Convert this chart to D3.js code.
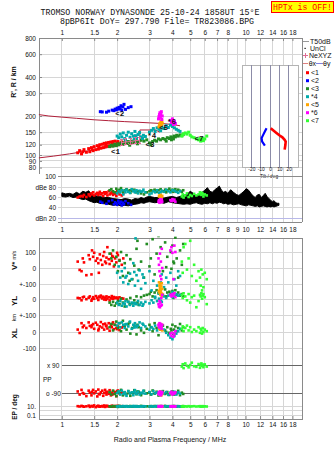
<!DOCTYPE html>
<html><head><meta charset="utf-8">
<script src="https://cdn.jsdelivr.net/npm/d3@7"></script>
<style>
body{margin:0;background:#fff}
svg{display:block}
text{font-family:"Liberation Sans",Arial,sans-serif;fill:#111}
.mono{font-family:"Liberation Mono","DejaVu Sans Mono",monospace}
</style>
</head><body><svg id="c" width="335" height="451"></svg>
<script>
// ---------- data ----------
const titleLine1 = "TROMSO NORWAY   DYNASONDE 25-10-24 1858UT 15°E";
const titleLine2 = "8pBP6It DoY= 297.790 File= TR823086.BPG";
const freqTicks = [1,1.5,2,3,4,5,6,7,8,9,10,12,14,16,18];
const freqLabelsTop = [1,1.5,2,3,4,5,6,7,8,10,12,14,16,18];
const freqLabelsMid = [1,1.5,2,3,4,5,6,7,8,9,10,12,14,16,18];
const freqLabelsBottom = [1,1.5,2,3,4,5,6,7,8,10,12,14,16,18];
const rTicks = [800,600,400,300,200,150,120,100,90,80];
const dbTicks = [100,80,60,40,20];
const dbLabels = ["100","dBe 80","60","40","dBn 20"];
const tiltTicks = [-20,-10,0,10,20];
const modeNames = ["<1","<2","<3","*4","<5","*6","<7"];
const modeColors = ["#ff0000","#0000ff","#228b22","#00aaaa","#ffa500","#ff00ff","#33ff33"];

// echo records: [freq MHz, R' km, amplitude dB, V* m/s, YL km, XL km, PP deg, EP deg]
const mode1 = [
[1.22,104,60,40,10,15,-80,12],[1.25,108,62,-12,8,-6,-100,10],[1.28,102,63,-20,-5,55,-70,14],
[1.32,110,65,35,18,40,-95,9],[1.36,105,61,-45,2,25,-110,11],[1.40,112,66,80,12,60,-75,16],
[1.42,106,63,55,20,38,-88,8],[1.45,114,68,-40,-8,30,-105,13],[1.48,108,70,70,15,50,-70,10],
[1.50,116,64,95,5,20,-92,18],[1.53,110,67,45,22,58,-80,7],[1.56,118,69,60,10,45,-112,12],
[1.58,111,65,30,-3,10,-68,15],[1.61,120,71,85,14,35,-98,9],[1.63,113,66,50,25,62,-85,11],
[1.66,121,68,20,7,28,-75,13],[1.68,114,63,75,18,48,-108,10],[1.70,123,70,100,0,15,-90,17],
[1.72,116,67,40,12,52,-70,8],[1.75,124,69,65,20,40,-100,12],[1.77,117,64,130,6,22,-82,14],
[1.80,125,72,55,15,55,-95,10],[1.82,118,66,25,-6,8,-72,11],[1.85,126,68,90,10,42,-105,9],
[1.87,119,71,45,22,30,-88,15],[1.90,127,65,70,4,60,-78,12],[1.92,120,69,10,16,18,-96,10],
[1.95,128,67,60,9,45,-84,13],[1.98,121,63,35,12,25,-110,11],[2.02,127,70,80,5,35,-74,14],
[2.06,122,66,50,14,12,-92,9],[2.12,126,64,20,8,28,-86,12],[1.30,106,62,60,14,30,-90,11],
[1.46,111,66,110,3,42,-82,12],[1.59,115,68,-30,19,20,-96,10],[1.74,120,70,30,-2,36,-86,13],
[1.88,122,69,75,7,50,-100,9],[2.00,124,72,95,11,18,-78,12],[2.16,123,68,60,6,40,-90,11]
];
const mode2 = [
[1.62,216,52],[1.66,215,50],[1.75,214,48],[1.80,218,53],[1.88,222,55],[1.92,220,47],
[1.95,226,51],[1.98,223,49],[2.00,230,46],[2.03,226,54],[2.05,233,50],[2.08,228,48],
[2.10,240,52],[2.12,221,45],[2.15,235,50],[2.18,246,47],[2.22,225,53],[2.30,232,49],[2.38,236,46]
];
const mode3 = [
[1.82,116,74,90,-20,30,-85,11],[1.86,119,76,60,-35,50,-100,9],[1.90,117,72,110,-15,10,-75,13],
[1.94,121,70,20,-40,45,-95,10],[1.98,118,77,70,-25,65,-110,12],[2.02,122,73,-20,-10,25,-80,8],
[2.06,120,75,45,-30,55,-90,14],[2.10,124,78,100,5,5,-70,10],[2.15,121,71,-50,-20,70,-105,11],
[2.20,125,74,30,-45,35,-85,9],[2.25,123,76,80,0,15,-95,12],[2.30,127,72,-30,-15,50,-78,10],
[2.36,124,69,55,10,-10,-108,13],[2.42,128,73,-70,-25,25,-88,9],[2.48,126,75,15,-5,40,-72,11],
[2.55,129,70,120,20,-15,-98,12],[2.62,127,72,-10,-35,30,-82,10],[2.70,130,68,40,15,10,-104,14],
[2.80,128,66,-60,25,-5,-76,9],[2.90,131,70,150,30,20,-92,11],[3.00,124,72,10,35,45,-86,10],
[3.05,120,74,60,50,30,-100,12],[3.12,127,73,180,20,5,-74,9],[3.20,130,75,-40,45,55,-94,13],
[3.28,128,71,90,60,25,-82,10],[3.36,133,74,200,40,-20,-106,11],[3.45,131,76,130,55,15,-88,12],
[3.55,134,72,-20,30,40,-78,10],[3.65,132,75,160,65,10,-96,14],[3.75,136,74,70,45,30,-84,9],
[3.85,134,77,210,50,-5,-102,11],[3.92,138,73,100,35,20,-90,12],[4.00,136,75,140,55,45,-80,10],
[4.08,140,74,30,40,15,-98,13],[4.15,138,76,190,60,35,-86,9],[4.22,142,72,60,30,5,-92,11],
[4.30,140,75,-60,45,25,-76,12],[4.40,143,73,110,25,50,-104,10],[4.50,141,71,20,35,10,-88,11],
[4.58,144,74,150,20,30,-96,12],[3.70,128,70,5,20,0,-90,10],[3.95,131,72,-5,30,10,-84,11],
[4.05,133,71,40,10,-10,-100,12],[2.34,119,74,-80,-30,60,-92,10],[2.58,122,71,170,-20,45,-80,11]
];
const mode4 = [
[2.00,140,68,-30,-20,40,-90,10],[2.04,136,72,10,-35,55,-80,12],[2.08,145,70,-60,-10,30,-100,9],
[2.12,138,74,-20,-40,60,-75,11],[2.16,148,66,-90,-25,45,-95,13],[2.20,134,73,0,-30,25,-85,10],
[2.25,142,75,-50,-45,50,-108,12],[2.30,150,71,-100,-15,35,-78,9],[2.35,137,69,-35,-35,65,-92,11],
[2.40,146,76,-70,-20,20,-86,10],[2.45,140,72,30,-40,45,-104,13],[2.50,152,70,-110,-25,55,-72,10],
[2.55,135,74,-45,-30,30,-96,12],[2.60,144,68,-80,-10,40,-82,9],[2.65,149,73,-15,-35,60,-100,11],
[2.70,138,71,-130,-20,25,-88,10],[2.78,142,75,-60,-30,45,-76,12],[2.85,139,70,-95,-15,35,-94,11],
[3.00,150,66,-20,-25,15,-84,10],[3.08,155,68,-140,-5,30,-98,12],[3.15,160,72,-80,-20,20,-78,9],
[3.22,152,70,-180,10,40,-92,11],[3.30,162,74,-110,-10,10,-86,13],[3.38,158,69,-160,5,25,-100,10],
[3.50,165,73,-40,-15,35,-80,12],[3.60,160,71,-120,20,15,-94,10],[3.70,168,75,-60,10,-5,-84,11],
[3.80,163,72,-90,25,-20,-102,12],[3.90,170,70,-30,30,-35,-88,9],[4.00,166,74,-150,15,-45,-96,11],
[4.10,162,73,-70,20,-25,-82,10],[4.20,158,71,-110,35,-10,-100,12],[4.30,155,69,-20,25,5,-86,11],
[4.40,152,72,-50,30,20,-94,10],[2.52,141,71,185,-28,38,-90,11],[2.22,131,70,-60,-12,48,-98,10],
[2.48,133,73,-25,-22,28,-84,12],[2.75,134,72,-40,-40,52,-92,10],[3.45,154,70,-90,-8,22,-90,11]
];
const mode5 = [
[3.38,165,62,-90,55,40,-95,10],[3.40,170,64,-110,45,20,-85,12],[3.42,175,61,-125,60,50,-100,9],
[3.44,168,63,-100,30,15,-80,11],[3.46,180,65,-135,50,35,-90,10],[3.48,172,62,-115,40,25,-105,12],
[3.50,184,60,-95,20,45,-88,11],[3.52,176,63,-130,35,10,-96,10]
];
const mode6 = [
[3.36,190,52,60,-30,45,-95,10],[3.38,198,55,20,-45,30,-85,12],[3.40,205,50,-20,-10,55,-100,9],
[3.42,212,54,90,-50,40,-80,11],[3.44,195,57,-50,-20,25,-90,10],[3.46,208,53,40,-40,50,-105,12],
[3.48,216,51,-70,10,35,-88,11],[3.50,188,56,120,-35,20,-96,10],[3.52,200,52,0,30,45,-84,12],
[3.90,185,55,110,30,-10,-92,10],[3.95,178,53,130,20,-25,-82,11],[4.00,190,57,95,35,-5,-100,12],
[4.05,172,54,-70,25,-30,-88,10],[4.10,182,56,140,40,-15,-94,9],[4.15,175,52,100,15,5,-86,11]
];
const mode7 = [
[4.50,140,62,40,30,20,80,10],[4.55,143,66,-30,10,35,95,12],[4.60,146,60,130,40,5,70,9],
[4.70,148,64,150,20,25,100,11],[4.80,145,68,-10,-5,40,85,10],[4.90,150,61,60,35,10,75,12],
[5.00,142,65,170,-20,30,90,10],[5.10,138,63,-50,15,0,105,11],[5.25,136,67,20,25,15,82,12],
[5.40,133,64,-80,-50,5,78,10],[5.55,131,66,-20,-10,30,96,11],[5.65,134,70,-60,30,-5,72,12],
[5.70,128,68,-110,20,20,88,10],[5.75,132,65,-10,40,10,100,9],[5.80,130,69,-140,5,-10,84,11],
[5.85,135,67,-40,25,25,92,12],[5.90,129,62,-120,35,0,76,10],[6.00,133,66,-30,15,15,94,11],
[6.15,140,64,-70,-30,5,80,10]
];
const modes = [mode1,mode2,mode3,mode4,mode5,mode6,mode7];

// mode label positions in the R' panel
const modeLabelF = [1.96,2.07,3.02,3.09,3.58,3.95,5.58];
const modeLabelR = [104.7,207.8,120,139,162,180,133];

// height profile lines (R / km vs f)
const profileUpper = [[0.75,205],[0.85,200],[1.0,196],[1.2,192],[1.5,187],[1.8,184],[2.2,181],[2.6,179],[3.0,177],[3.5,175],[4.0,172],[4.4,168]];
const profileLower = [[0.75,95],[0.9,98],[1.1,102],[1.3,106],[1.6,111],[1.9,116],[2.2,120],[2.5,123],[2.66,125],[2.66,156],[3.25,156],[3.4,150]];
// NeXYZ markers
const neF = [2.10,2.22,2.36,2.52,2.65];
const neR = [124,126,127,129,130];

// tilt inset
const tiltX = [[0.8,161],[4,154],[6.9,148],[10,142],[13.3,137],[15.7,131],[16.8,127],[16.5,120],[15.7,110]];
const tiltY = [[-3.7,161],[-5.5,152],[-7.3,143],[-9,135],[-8.4,127],[-5.5,118]];

// amplitude band
const ampF  = [1.00,1.05,1.10,1.15,1.20,1.25,1.30,1.35,1.40,1.45,1.50,1.55,1.60,1.70,1.80,1.90,2.00,2.10,2.20,2.30,2.40,2.50,2.60,2.70,2.80,2.90,3.00,3.20,3.40,3.60,3.80,4.00,4.20,4.40,4.60,4.80,5.00,5.20,5.40,5.60,5.80,6.00,6.20,6.40,6.60,6.80,7.00,7.20,7.40,7.60,7.80,8.00,8.30,8.60,8.90,9.20,9.50,9.80,10.1,10.4,10.7,11.0,11.3,11.6,11.9,12.2,12.5,12.8,13.1,13.4,13.7,14.0,14.3,14.6,14.9,15.2];
const ampLo = [62,61,63,60,61,58,56,57,54,52,50,51,49,48,47,45,46,44,45,44,46,47,48,50,49,51,52,50,51,49,52,50,49,48,47,48,47,49,50,48,47,49,48,50,48,50,49,51,50,48,49,47,48,46,47,48,46,45,44,46,45,44,43,44,42,43,44,43,42,43,42,43,42,43,44,45];
const ampHi = [69,67,68,66,70,67,72,70,73,66,64,63,62,60,60,58,57,56,58,57,55,58,57,60,58,61,62,60,60,59,61,62,60,62,64,66,72,68,63,65,70,74,79,72,70,75,78,82,74,70,72,68,75,70,66,64,68,72,77,74,68,63,60,65,66,60,64,68,62,58,55,52,54,50,49,49];

// ---------- scales ----------
const x   = d3.scaleLog().domain([0.751,20.3]).range([39,302]);
const yR  = d3.scaleLog().domain([68,800]).range([176.7,38]);
const yDb = d3.scaleLinear().domain([100,13]).range([176.7,222]);
const yV  = d3.scaleLinear().domain([0,100]).range([268,252]);
const yYL = d3.scaleLinear().domain([0,100]).range([299.5,284]);
const yXL = d3.scaleLinear().domain([0,100]).range([332,316]);
const yPP = d3.scaleLinear().domain([-90,90]).range([393,365]);
const yEP = d3.scaleLog().domain([0.1,10]).range([415,406.5]);
const xT  = d3.scaleLinear().domain([-30,30]).range([242,298]);

const svg = d3.select("#c");
const gridC = "#d6d6d6", frameC = "#8a8a8a";
const L = 39, Rr = 302, TOP = 38, TOPB = 176.7, DBL = 58, DBB = 222, LT = 238, LB = 419;

function line(x1,y1,x2,y2,c,w){
  svg.append("line").attr("x1",x1).attr("y1",y1).attr("x2",x2).attr("y2",y2)
    .attr("stroke",c).attr("stroke-width",w||1).attr("shape-rendering","crispEdges");
}
function txt(s,xx,yy,opt){
  opt = opt||{};
  return svg.append("text").attr("x",xx).attr("y",yy).text(s)
    .attr("font-size",opt.size||6.5).attr("text-anchor",opt.anchor||"end")
    .attr("dominant-baseline","central").attr("font-weight",opt.weight||"normal")
    .style("fill",opt.fill||"#111");
}

// title
svg.append("text").attr("class","mono").attr("x",150).attr("y",14.5).attr("text-anchor","middle")
  .attr("font-size",8.3).text(titleLine1);
svg.append("text").attr("class","mono").attr("x",157).attr("y",23.5).attr("text-anchor","middle")
  .attr("font-size",8.3).text(titleLine2);
svg.append("rect").attr("x",271.5).attr("y",1.5).attr("width",62).attr("height",11)
  .attr("fill","#ffff00").attr("stroke","#ff0000");
svg.append("text").attr("class","mono").attr("x",302.5).attr("y",10.2).attr("text-anchor","middle")
  .attr("font-size",8.2).style("fill","#ff0000").text("HPTx is OFF!");

// ---------- top panel ----------
freqTicks.forEach(f=>line(x(f),TOP,x(f),TOPB,gridC));
rTicks.forEach(r=>line(L,yR(r),Rr,yR(r),gridC));
line(L,TOP,Rr,TOP,frameC); line(L,TOP,L,174,frameC); line(Rr,TOP,Rr,DBB,frameC);

svg.append("g").attr("transform",`translate(0,${TOP})`)
  .call(d3.axisTop(x).tickValues(freqLabelsTop).tickFormat(d=>String(d)).tickSizeInner(-3).tickSizeOuter(0).tickPadding(3));
svg.append("g").attr("transform",`translate(${L},0)`)
  .call(d3.axisLeft(yR).tickValues(rTicks).tickFormat(d=>String(d)).tickSizeInner(-3).tickSizeOuter(0).tickPadding(3));

// profile lines
const lg = d3.line().x(d=>x(d[0])).y(d=>yR(d[1]));
svg.append("path").attr("d",lg(profileUpper)).attr("fill","none").attr("stroke","#b0203a").attr("stroke-width",1);
svg.append("path").attr("d",lg(profileLower)).attr("fill","none").attr("stroke","#b0203a").attr("stroke-width",1);

// echoes in R' panel
const ps = 3;
modes.forEach((m,i)=>{
  svg.append("g").selectAll("rect").data(m).join("rect")
    .attr("x",d=>x(d[0])-ps/2).attr("y",d=>yR(d[1])-ps/2)
    .attr("width",ps).attr("height",ps).attr("fill",modeColors[i]);
});
// NeXYZ
svg.append("path").attr("d",d3.line().x(d=>x(d)).y((d,i)=>yR(neR[i]))(neF))
  .attr("fill","none").attr("stroke","#e06c96").attr("stroke-width",1);
neF.forEach((f,i)=>{
  const cx=x(f), cy=yR(neR[i]);
  line(cx,cy-3,cx,cy+3,"#e06c96"); line(cx-1.5,cy-3,cx+1.5,cy-3,"#e06c96"); line(cx-1.5,cy+3,cx+1.5,cy+3,"#e06c96");
});
// mode labels
modeNames.forEach((s,i)=>{
  svg.append("text").attr("class","mono").attr("x",x(modeLabelF[i])).attr("y",yR(modeLabelR[i]))
    .attr("text-anchor","middle").attr("dominant-baseline","central").attr("font-size",7.5)
    .attr("font-weight","bold").text(s);
});
// axis title
svg.append("text").attr("transform","translate(13,82) rotate(-90)").attr("text-anchor","middle")
  .attr("dominant-baseline","central").attr("font-size",7).attr("font-weight","bold").text("R', R / km");

// tilt inset
svg.append("rect").attr("x",xT(-30)).attr("y",65).attr("width",xT(30)-xT(-30)).attr("height",102.7)
  .attr("fill","#fff").attr("stroke","#b4b4b4").attr("shape-rendering","crispEdges");
tiltTicks.forEach(t=>line(xT(t),65,xT(t),167.7,"#8c8ca8"));
const tl = d3.line().x(d=>xT(d[0])).y(d=>yR(d[1]));
svg.append("path").attr("d",tl(tiltX)).attr("fill","none").attr("stroke","#ff0000").attr("stroke-width",2.6);
svg.append("path").attr("d",tl(tiltY)).attr("fill","none").attr("stroke","#0000ff").attr("stroke-width",2.2);
svg.append("g").attr("class","tiltax").attr("transform","translate(0,167.2)")
  .call(d3.axisBottom(xT).tickValues(tiltTicks).tickFormat(d=>String(d)).tickSize(0).tickPadding(0.5));
txt("Tilt / deg",269,176.3,{anchor:"middle",size:4.8});

// legend
line(303,41.7,309,41.7,"#999");
txt("T50dB",310,41.7,{anchor:"start",size:7});
svg.append("rect").attr("x",304.5).attr("y",47.8).attr("width",1.2).attr("height",1.2).attr("fill","#000");
txt("UnCl",310,48.3,{anchor:"start",size:7});
line(302.5,55.7,307.5,55.7,"#e06c96"); line(305,53.2,305,58.2,"#e06c96");
txt("NeXYZ",309,55.7,{anchor:"start",size:7});
line(303,63.3,308,63.3,"#e08080");
txt("θx",308.7,63.3,{anchor:"start",size:7});
line(316,63.3,322.5,63.3,"#8080e0");
txt("θy",323,63.3,{anchor:"start",size:7});
modeNames.forEach((s,i)=>{
  const yy = 72.7 + i*8;
  svg.append("rect").attr("x",306).attr("y",yy-1.5).attr("width",3).attr("height",3).attr("fill",modeColors[i]);
  txt(s,311,yy,{anchor:"start",size:7});
});

// ---------- dBe panel ----------
freqTicks.forEach(f=>line(x(f),TOPB,x(f),DBB,gridC));
dbTicks.forEach((v,i)=>{
  line(DBL,yDb(v),Rr,yDb(v), v===20 ? "#b8b8e8" : (v===100? frameC : gridC));
  txt(dbLabels[i],56,yDb(v),{size:6.5});
});
line(DBL,DBB,Rr,DBB,frameC);
const ampData = ampF.map((f,i)=>[f,ampLo[i],ampHi[i]]);
svg.append("path").attr("d",d3.area().x(d=>x(d[0])).y0(d=>yDb(d[1])).y1(d=>yDb(d[2]))(ampData))
  .attr("fill","#000").attr("stroke","#000").attr("stroke-width",1);
modes.forEach((m,i)=>{
  svg.append("g").selectAll("rect").data(m).join("rect")
    .attr("x",d=>x(d[0])-1.3).attr("y",d=>yDb(d[2])-1.3)
    .attr("width",2.6).attr("height",2.6).attr("fill",modeColors[i]);
});
svg.append("g").attr("transform",`translate(0,${DBB})`)
  .call(d3.axisBottom(x).tickValues(freqLabelsMid).tickFormat(d=>String(d)).tickSizeInner(0).tickSizeOuter(0).tickPadding(5));

// ---------- lower panel ----------
freqTicks.forEach(f=>line(x(f),LT,x(f),LB,gridC));
const hl = [yV(100),yV(0),yV(-100),yYL(0),yYL(-100),yXL(0),yXL(-100),yEP(10),yEP(1),yEP(0.1)];
hl.forEach(yy=>line(L,yy,Rr,yy,gridC));
line(x(1),yPP(90),Rr,yPP(90),"#666");
line(x(1),yPP(-90),Rr,yPP(-90),"#666");
svg.append("rect").attr("x",L).attr("y",LT).attr("width",Rr-L).attr("height",LB-LT)
  .attr("fill","none").attr("stroke",frameC).attr("shape-rendering","crispEdges");

const lowLabs = ["100","0","+-100","0","+-100","0","-100"];
const lowYs = [yV(100),yV(0),yV(-100),yYL(0),yYL(-100),yXL(0),yXL(-100)];
lowLabs.forEach((s,i)=>txt(s,36,lowYs[i]));
txt("x 90",47,yPP(90),{anchor:"start"});
txt("o -90",46,yPP(-90),{anchor:"start"});
txt("PP",43,379.3,{anchor:"start"});
txt("10.",36,yEP(10));
txt("0.1",36,yEP(0.1)+0.5);

const vt = svg.append("text").attr("transform","translate(14,270) rotate(-90)").attr("dominant-baseline","central");
vt.append("tspan").attr("font-size",8).attr("font-weight","bold").text("V*");
vt.append("tspan").attr("font-size",5.5).attr("dx",2).text("m/s");
svg.append("text").attr("transform","translate(14,301) rotate(-90)").attr("text-anchor","middle")
  .attr("dominant-baseline","central").attr("font-size",8).attr("font-weight","bold").text("YL");
svg.append("text").attr("transform","translate(14,317.5) rotate(-90)").attr("text-anchor","middle")
  .attr("dominant-baseline","central").attr("font-size",5.5).text("km");
svg.append("text").attr("transform","translate(14,333.5) rotate(-90)").attr("text-anchor","middle")
  .attr("dominant-baseline","central").attr("font-size",8).attr("font-weight","bold").text("XL");
svg.append("text").attr("transform","translate(14,407) rotate(-90)").attr("text-anchor","middle")
  .attr("dominant-baseline","central").attr("font-size",6.5).attr("font-weight","bold").text("EP / deg");

svg.append("defs").append("clipPath").attr("id","lowclip").append("rect")
  .attr("x",L).attr("y",236.5).attr("width",Rr-L).attr("height",LB-236.5);
const lowG = svg.append("g").attr("clip-path","url(#lowclip)");
const fields = [[3,yV],[4,yYL],[5,yXL],[6,yPP],[7,yEP]];
modes.forEach((m,i)=>{
  fields.forEach(([k,sc])=>{
    lowG.append("g").selectAll("rect").data(m.filter(d=>d[k]!=null)).join("rect")
      .attr("x",d=>x(d[0])-1.3).attr("y",d=>sc(d[k])-1.3)
      .attr("width",2.6).attr("height",2.6).attr("fill",modeColors[i]);
  });
});

svg.append("g").attr("transform",`translate(0,${LB})`)
  .call(d3.axisBottom(x).tickValues(freqLabelsBottom).tickFormat(d=>String(d)).tickSizeInner(-3).tickSizeOuter(0).tickPadding(3));
svg.append("text").attr("x",170).attr("y",439).attr("text-anchor","middle").attr("dominant-baseline","central")
  .attr("font-size",7).text("Radio and Plasma Frequency / MHz");

// axis styling
svg.selectAll(".domain").remove();
svg.selectAll(".tick line").attr("stroke",frameC);
svg.selectAll(".tick text").attr("font-size",6.5).style("fill","#111")
  .attr("font-family","Liberation Sans, Arial, sans-serif");
svg.selectAll(".tiltax .tick text").attr("font-size",4.8);
</script></body></html>
